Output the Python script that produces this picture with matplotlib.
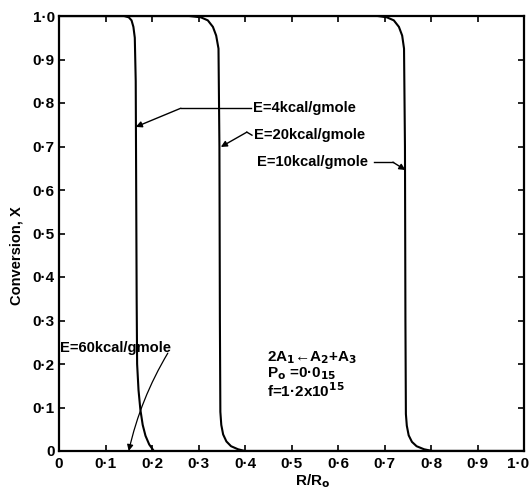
import matplotlib
matplotlib.use("Agg")
import matplotlib.pyplot as plt
import matplotlib.transforms as mtransforms

# ---- data (R/R0, conversion X) ----
r_e4 = [0.0, 0.140, 0.150, 0.156, 0.160, 0.163, 0.165, 0.166, 0.167, 0.168, 0.171, 0.175, 0.180, 0.186, 0.194, 0.204, 1.0]
x_e4 = [1.0, 1.0, 0.997, 0.99, 0.975, 0.95, 0.85, 0.6, 0.35, 0.2, 0.14, 0.095, 0.06, 0.035, 0.015, 0.0, 0.0]

r_e20 = [0.0, 0.280, 0.305, 0.320, 0.331, 0.338, 0.343, 0.345, 0.346, 0.347, 0.349, 0.353, 0.360, 0.370, 0.385, 0.400, 1.0]
x_e20 = [1.0, 1.0, 0.997, 0.99, 0.975, 0.955, 0.925, 0.7, 0.3, 0.09, 0.06, 0.038, 0.022, 0.011, 0.004, 0.0, 0.0]

r_e10 = [0.0, 0.685, 0.705, 0.720, 0.731, 0.738, 0.742, 0.744, 0.745, 0.746, 0.748, 0.752, 0.759, 0.769, 0.785, 0.803, 1.0]
x_e10 = [1.0, 1.0, 0.997, 0.99, 0.975, 0.955, 0.925, 0.7, 0.3, 0.085, 0.058, 0.036, 0.021, 0.011, 0.004, 0.0, 0.0]

xticks = [0.0, 0.1, 0.2, 0.3, 0.4, 0.5, 0.6, 0.7, 0.8, 0.9, 1.0]
xtick_labels = ["0", "0·1", "0·2", "0·3", "0·4", "0·5", "0·6", "0·7", "0·8", "0·9", "1·0"]
yticks = [0.0, 0.1, 0.2, 0.3, 0.4, 0.5, 0.6, 0.7, 0.8, 0.9, 1.0]
ytick_labels = ["0", "0·1", "0·2", "0·3", "0·4", "0·5", "0·6", "0·7", "0·8", "0·9", "1·0"]

# labels: text, text position, elbow point, arrow tip
labels = [
    ("E=4kcal/gmole", (0.417, 0.788), (0.262, 0.788), (0.165, 0.745)),
    ("E=20kcal/gmole", (0.419, 0.726), (0.404, 0.733), (0.348, 0.699)),
    ("E=10kcal/gmole", (0.426, 0.664), (0.718, 0.664), (0.745, 0.646)),
]
label_e60 = ("E=60kcal/gmole", (0.003, 0.237), (0.234, 0.225), (0.150, 0.0))

plt.rcParams['font.family'] = ['Liberation Sans', 'DejaVu Sans']
plt.rcParams['font.weight'] = 'bold'
plt.rcParams['mathtext.default'] = 'bf'

fig = plt.figure(figsize=(5.29, 4.95), dpi=100)
ax = fig.add_axes([59/529, 44/495, 465/529, 435/495])

for r, x in [(r_e4, x_e4), (r_e20, x_e20), (r_e10, x_e10)]:
    ax.plot(r, x, color="black", lw=1.5, solid_joinstyle="round")

ax.set_xlim(0, 1.0)
ax.set_ylim(0, 1.0)
ax.set_xticks(xticks)
ax.set_xticklabels(xtick_labels)
ax.set_yticks(yticks)
ax.set_yticklabels(ytick_labels)
ax.tick_params(direction="in", length=4, width=1.2, top=True, right=True, labelsize=11)
ax.tick_params(axis="x", pad=4)
ax.tick_params(axis="y", pad=3)
for s in ax.spines.values():
    s.set_linewidth(1.6)

last = ax.get_xticklabels()[-1]
last.set_ha("right")
last.set_transform(last.get_transform() + mtransforms.ScaledTranslation(5/100, 0, fig.dpi_scale_trans))

ax.set_ylabel("Conversion, X", fontsize=10.5, fontweight="bold")
ax.yaxis.set_label_coords(-0.077, 0.45)
ax.set_xlabel("R/R$_o$", fontsize=11, fontweight="bold")
ax.xaxis.set_label_coords(0.546, -0.05)

for text, tpos, elbow, tip in labels:
    ax.text(tpos[0], tpos[1], text, fontsize=10.6, fontweight="bold", va="center", ha="left")
    if elbow[0] < tpos[0]:
        ax.plot([tpos[0] - 0.004, elbow[0]], [tpos[1], elbow[1]], color="black", lw=1.0)
    else:
        ax.plot([elbow[0] - 0.04, elbow[0]], [elbow[1], elbow[1]], color="black", lw=1.0)
    ax.annotate("", xy=tip, xytext=elbow,
                arrowprops=dict(arrowstyle="-|>", color="black", lw=1.0,
                                mutation_scale=9, shrinkA=0, shrinkB=0))

text, tpos, elbow, tip = label_e60
ax.text(tpos[0], tpos[1], text, fontsize=10.6, fontweight="bold", va="center", ha="left")
ax.annotate("", xy=tip, xytext=elbow,
            arrowprops=dict(arrowstyle="-|>", color="black", lw=0.9,
                            mutation_scale=9, shrinkA=0, shrinkB=0,
                            connectionstyle="arc3,rad=0.08"))

ax.text(0.447, 0.175, "2A$_1$←A$_2$+A$_3$\nP$_o$ =0·0$_{15}$\nf=1·2x10$^{15}$",
        fontsize=11, fontweight="bold", va="center", ha="left", linespacing=0.95)

fig.savefig("out.png", dpi=100)
